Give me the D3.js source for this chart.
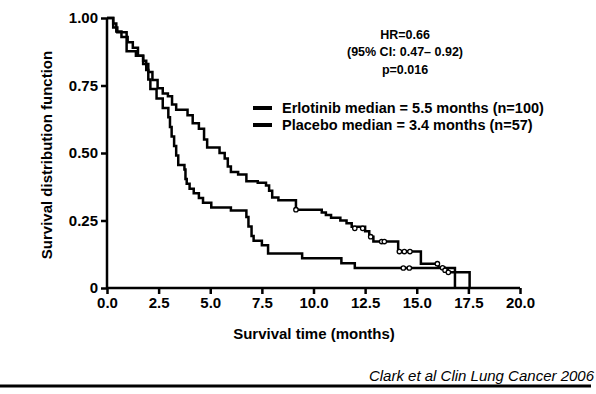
<!DOCTYPE html>
<html><head><meta charset="utf-8">
<script src="https://cdn.jsdelivr.net/npm/d3@7"></script>
<style>
html,body{margin:0;padding:0;background:#fff;}
svg{display:block;font-family:"Liberation Sans",Arial,sans-serif;}
</style></head>
<body>
<svg id="chart" width="596" height="394"></svg>
<script>
// ---- data ----
const xTicks = [0, 2.5, 5, 7.5, 10, 12.5, 15, 17.5, 20];
const xTickLabels = ["0.0","2.5","5.0","7.5","10.0","12.5","15.0","17.5","20.0"];
const yTicks = [0, 0.25, 0.5, 0.75, 1.0];
const yTickLabels = ["0","0.25","0.50","0.75","1.00"];

// Erlotinib step curve: [time (months), survival after step]
const erlotinibSteps = [
  [0,1.0],[0.3,0.98],[0.45,0.95],[0.7,0.93],[1.0,0.91],[1.25,0.89],[1.5,0.86],
  [1.75,0.83],[2.0,0.80],[2.2,0.77],[2.45,0.74],[2.7,0.72],[2.95,0.71],[3.15,0.68],
  [3.35,0.66],[3.9,0.64],[4.15,0.61],[4.45,0.59],[4.7,0.55],[4.85,0.52],[5.45,0.50],
  [5.7,0.48],[5.85,0.45],[6.0,0.43],[6.35,0.42],[6.75,0.395],[7.3,0.39],[7.7,0.38],
  [7.85,0.36],[8.0,0.335],[8.3,0.325],[9.15,0.29],[10.4,0.28],[10.6,0.27],[10.85,0.26],
  [11.3,0.25],[11.6,0.24],[11.85,0.227],[12.5,0.21],[12.7,0.19],[12.9,0.172],
  [14.1,0.135],[15.2,0.09],[16.05,0.075],[16.35,0.066],[16.5,0.058],[17.56,0]
];
const erlotinibCensored = [
  [9.15,0.29],[12.0,0.221],[12.38,0.221],[12.77,0.19],[13.3,0.172],[13.43,0.172],
  [14.16,0.135],[14.4,0.135],[14.67,0.135],[16.0,0.09],[16.25,0.075],[16.37,0.066],[16.53,0.058]
];

// Placebo step curve
const placeboSteps = [
  [0,1.0],[0.3,0.965],[0.5,0.947],[0.95,0.877],[1.4,0.86],[1.75,0.842],[1.9,0.807],
  [2.0,0.772],[2.1,0.737],[2.4,0.702],[2.7,0.667],[2.97,0.632],[3.05,0.596],[3.13,0.561],
  [3.25,0.526],[3.35,0.491],[3.45,0.456],[3.75,0.439],[3.8,0.404],[3.86,0.386],[4.0,0.368],
  [4.2,0.351],[4.45,0.333],[4.65,0.316],[5.05,0.298],[6.0,0.287],[6.75,0.263],[6.85,0.228],
  [7.0,0.193],[7.1,0.175],[7.5,0.158],[7.8,0.128],[9.45,0.11],[11.35,0.092],[12.0,0.074],
  [16.85,0]
];
const placeboCensored = [[14.35,0.074],[14.64,0.074]];

const statsLines = ["HR=0.66","(95% CI: 0.47\u2013 0.92)","p=0.016"];
const legendLabels = ["Erlotinib median = 5.5 months (n=100)","Placebo median = 3.4 months (n=57)"];
const xTitle = "Survival time (months)";
const yTitle = "Survival distribution function";
const citation = "Clark et al Clin Lung Cancer 2006";

// ---- drawing ----
const svg = d3.select("#chart");
const m = {left:107, top:18, right:76, bottom:106};
const W = 596 - m.left - m.right, H = 394 - m.top - m.bottom;
const x = d3.scaleLinear().domain([0,20]).range([0,W]);
const y = d3.scaleLinear().domain([0,1]).range([H,0]);
const g = svg.append("g").attr("transform",`translate(${m.left},${m.top})`);

const xAxis = d3.axisBottom(x).tickValues(xTicks).tickFormat((d,i)=>xTickLabels[i]).tickSize(6).tickPadding(3);
const yAxis = d3.axisLeft(y).tickValues(yTicks).tickFormat((d,i)=>yTickLabels[i]).tickSize(6).tickPadding(3);

const gx = g.append("g").attr("transform",`translate(0,${H})`).call(xAxis);
const gy = g.append("g").call(yAxis);
[gx,gy].forEach(a=>{
  a.select(".domain").attr("stroke","#000").attr("stroke-width",2.5).attr("d",
    a===gx ? `M0,0H${W}` : `M0,${H}V0`);
  a.selectAll(".tick line").attr("stroke","#000").attr("stroke-width",2.5);
  a.selectAll(".tick text").attr("fill","#000").style("font-size","15px").style("font-weight","bold");
});

const line = d3.line().x(d=>x(d[0])).y(d=>y(d[1])).curve(d3.curveStepAfter);
[erlotinibSteps, placeboSteps].forEach(s=>{
  g.append("path").datum(s).attr("d",line).attr("fill","none")
   .attr("stroke","#000").attr("stroke-width",2.5);
});
[erlotinibCensored, placeboCensored].forEach(c=>{
  g.selectAll(null).data(c).enter().append("circle")
   .attr("cx",d=>x(d[0])).attr("cy",d=>y(d[1])).attr("r",2.2)
   .attr("fill","#fff").attr("stroke","#000").attr("stroke-width",1.3);
});

// axis titles
svg.append("text").attr("x",314).attr("y",339).attr("text-anchor","middle")
  .style("font-size","15px").style("font-weight","bold").text(xTitle);
svg.append("text").attr("transform","translate(52,155) rotate(-90)").attr("text-anchor","middle")
  .style("font-size","15px").style("font-weight","bold").text(yTitle);

// stats
statsLines.forEach((t,i)=>{
  svg.append("text").attr("x",405).attr("y",39+i*17.3).attr("text-anchor","middle")
    .style("font-size","12.5px").style("font-weight","bold").text(t);
});

// legend
legendLabels.forEach((t,i)=>{
  const yy = 108 + i*17;
  svg.append("line").attr("x1",253).attr("x2",272).attr("y1",yy).attr("y2",yy)
    .attr("stroke","#000").attr("stroke-width",4);
  svg.append("text").attr("x",282).attr("y",yy+5.3)
    .style("font-size","14.5px").style("font-weight","bold").text(t);
});

// citation and bottom rule
svg.append("text").attr("x",594).attr("y",381).attr("text-anchor","end")
  .style("font-size","15px").style("font-style","italic").text(citation);
svg.append("line").attr("x1",0).attr("x2",591).attr("y1",386).attr("y2",386)
  .attr("stroke","#000").attr("stroke-width",3);
</script>
</body></html>
